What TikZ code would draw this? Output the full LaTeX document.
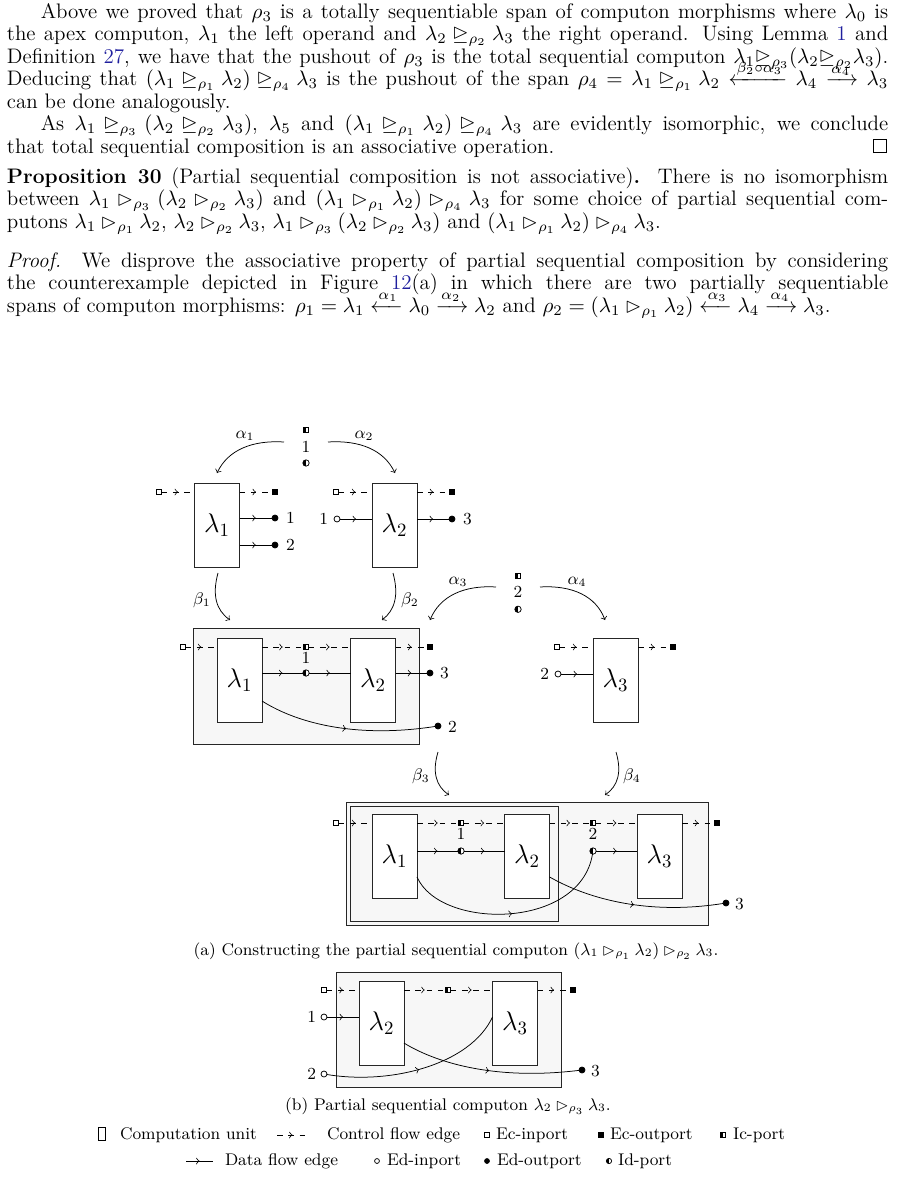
\RequirePackage{fix-cm}
\documentclass[tikz,border=0pt]{standalone}
\usepackage{amsmath,amssymb}
\usetikzlibrary{decorations.markings}
\definecolor{linkblue}{rgb}{0.12,0.12,0.62}
\newcommand{\lnk}[1]{\textcolor{linkblue}{#1}}
\newcommand{\myqedbox}{\hbox to.77778em{\hfil\vrule\vbox to.675em{\hrule width.6em\vfil\hrule}\vrule\hfil}}
\newlength{\twd}\setlength{\twd}{470pt}
\newcommand{\jl}[1]{\makebox[\twd][s]{#1}}
\newcommand{\ind}{\hspace*{18pt}}
\newcommand{\bodyfont}{\fontsize{11.2pt}{12pt}\selectfont}
\begin{document}
\begin{tikzpicture}[x=0.53333pt,y=-0.53333pt,
  every node/.style={inner sep=0pt,outer sep=0pt},
  txt/.style={anchor=base west,font=\bodyfont},
  cunit/.style={draw=black!85,fill=white,line width=0.5pt,minimum width=24pt,minimum height=44.8pt,font=\Large},
  comp/.style={draw=black!85,fill=black!3,line width=0.5pt},
  prt/.style={draw,line width=0.4pt},
  ecin/.style={prt,rectangle,fill=white,minimum size=2.8pt},
  ecout/.style={prt,rectangle,fill=black,minimum size=2.8pt},
  icp/.style={prt,rectangle,fill=white,minimum size=2.8pt,path picture={\fill[black] (path picture bounding box.south west) rectangle (path picture bounding box.north);}},
  edin/.style={prt,circle,fill=white,minimum size=3.2pt},
  edout/.style={prt,circle,fill=black,minimum size=3.2pt},
  idp/.style={prt,circle,fill=white,minimum size=3.4pt,path picture={\fill[black] (path picture bounding box.south west) rectangle (path picture bounding box.north);}},
  midarrow/.style={postaction={decorate},decoration={markings,mark=at position #1 with {\arrow{>}}}},
  midarrow/.default=0.5,
  cflow/.style={dashed,line width=0.4pt,midarrow=#1},
  cflow/.default=0.5,
  dflow/.style={line width=0.4pt,midarrow=#1},
  dflow/.default=0.5,
  morph/.style={->,line width=0.4pt},
  lab/.style={font=\small},
  leg/.style={font=\small,anchor=base west},
]
\fill[white] (0,0) rectangle (898,1177);
\useasboundingbox (0,0) rectangle (898,1177);

% ---------------- text ----------------
\node[txt] (t1) at (7,18) {\jl{\ind Above we proved that $\rho_3$ is a totally sequentiable span of computon morphisms where $\lambda_0$ is}};
\node[txt] (t2) at (7,40.5) {\jl{the apex computon, $\lambda_1$ the left operand and $\lambda_2 \unrhd_{\rho_2} \lambda_3$ the right operand. Using Lemma \lnk{1} and}};
\node[txt] (t3) at (7,63) {\jl{Definition \lnk{27}, we have that the pushout of $\rho_3$ is the total sequential computon $\lambda_1{\unrhd_{\rho_3}}(\lambda_2{\unrhd_{\rho_2}}\lambda_3)$.}};
\node[txt] (t4) at (7,85.5) {\jl{Deducing that $(\lambda_1 \unrhd_{\rho_1} \lambda_2) \unrhd_{\rho_4} \lambda_3$ is the pushout of the span $\rho_4 = \lambda_1 \unrhd_{\rho_1} \lambda_2 \xleftarrow{\beta_2\circ\alpha_3} \lambda_4 \xrightarrow{\alpha_4} \lambda_3$}};
\node[txt] (t5) at (7,108) {can be done analogously.};
\node[txt] (t6) at (7,130.5) {\jl{\ind As $\lambda_1 \unrhd_{\rho_3} (\lambda_2 \unrhd_{\rho_2} \lambda_3)$, $\lambda_5$ and $(\lambda_1 \unrhd_{\rho_1} \lambda_2) \unrhd_{\rho_4} \lambda_3$ are evidently isomorphic, we conclude}};
\node[txt] (t7) at (7,153) {\makebox[\twd][l]{that total sequential composition is an associative operation.\hfill\myqedbox}};
\node[txt] (t8) at (7,183) {\jl{\textbf{Proposition 30} (Partial sequential composition is not associative)\textbf{.} There is no isomorphism}};
\node[txt] (t9) at (7,205.5) {\jl{between $\lambda_1 \rhd_{\rho_3} (\lambda_2 \rhd_{\rho_2} \lambda_3)$ and $(\lambda_1 \rhd_{\rho_1} \lambda_2) \rhd_{\rho_4} \lambda_3$ for some choice of partial sequential com-}};
\node[txt] (t10) at (7,228) {putons $\lambda_1 \rhd_{\rho_1} \lambda_2$, $\lambda_2 \rhd_{\rho_2} \lambda_3$, $\lambda_1 \rhd_{\rho_3} (\lambda_2 \rhd_{\rho_2} \lambda_3)$ and $(\lambda_1 \rhd_{\rho_1} \lambda_2) \rhd_{\rho_4} \lambda_3$.};
\node[txt] (t11) at (7,267) {\jl{\textit{Proof.} We disprove the associative property of partial sequential composition by considering}};
\node[txt] (t12) at (7,289.5) {\jl{the counterexample depicted in Figure \lnk{12}(a) in which there are two partially sequentiable}};
\node[txt] (t13) at (7,312) {spans of computon morphisms: $\rho_1 = \lambda_1 \xleftarrow{\alpha_1} \lambda_0 \xrightarrow{\alpha_2} \lambda_2$ and $\rho_2 = (\lambda_1 \rhd_{\rho_1} \lambda_2) \xleftarrow{\alpha_3} \lambda_4 \xrightarrow{\alpha_4} \lambda_3$.};

% ---------------- top row ----------------
\node[icp] (s1ic) at (306,430) {};
\node[lab] (s1n) at (306,446.7) {1};
\node[idp] (s1id) at (306,463) {};
\coordinate (a1s) at (284,442); \coordinate (a1e) at (217,473);
\coordinate (a2s) at (328,442); \coordinate (a2e) at (395,473);
\draw[morph] (a1s) .. controls (252,440) and (228,450) .. (a1e);
\draw[morph] (a2s) .. controls (360,440) and (384,450) .. (a2e);
\node[lab] (a1l) at (245,436) {$\alpha_1$};
\node[lab] (a2l) at (364,436) {$\alpha_2$};

\node[cunit] (A1) at (217,525) {$\lambda_1$};
\node[cunit] (A2) at (394.5,525) {$\lambda_2$};
\node[ecin] (A1ci) at (159,492) {};
\node[ecout] (A1co) at (275,492) {};
\node[edout] (A1d1) at (275,518) {};
\node[edout] (A1d2) at (275,545) {};
\node[lab,anchor=west] (A1n1) at (286,518) {1};
\node[lab,anchor=west] (A1n2) at (286,545) {2};
\draw[cflow] (A1ci) -- (A1ci -| A1.west);
\draw[cflow] (A1.east |- A1co) -- (A1co);
\draw[dflow] (A1.east |- A1d1) -- (A1d1);
\draw[dflow] (A1.east |- A1d2) -- (A1d2);

\node[ecin] (A2ci) at (336,492) {};
\node[ecout] (A2co) at (452,492) {};
\node[edin] (A2di) at (337,519) {};
\node[edout] (A2do) at (452,519) {};
\node[lab,anchor=east] (A2n1) at (328,519) {1};
\node[lab,anchor=west] (A2n3) at (463,519) {3};
\draw[cflow] (A2ci) -- (A2ci -| A2.west);
\draw[cflow] (A2.east |- A2co) -- (A2co);
\draw[dflow] (A2di) -- (A2di -| A2.west);
\draw[dflow] (A2.east |- A2do) -- (A2do);

% ---------------- morphisms beta1, beta2, alpha3, alpha4 ----------------
\coordinate (b1s) at (218,573); \coordinate (b1e) at (230,620);
\coordinate (b2s) at (393,573); \coordinate (b2e) at (382,620);
\draw[morph] (b1s) .. controls (212,595) and (216,610) .. (b1e);
\draw[morph] (b2s) .. controls (399,595) and (395,610) .. (b2e);
\node[lab] (b1l) at (202,600) {$\beta_1$};
\node[lab] (b2l) at (410,600) {$\beta_2$};

\node[icp] (s2ic) at (518,576) {};
\node[lab] (s2n) at (518,592.3) {2};
\node[idp] (s2id) at (518,609.3) {};
\coordinate (a3s) at (496,587); \coordinate (a3e) at (430,620);
\coordinate (a4s) at (540,587); \coordinate (a4e) at (605,620);
\draw[morph] (a3s) .. controls (464,585) and (440,596) .. (a3e);
\draw[morph] (a4s) .. controls (572,585) and (596,596) .. (a4e);
\node[lab] (a3l) at (458,582) {$\alpha_3$};
\node[lab] (a4l) at (577,582) {$\alpha_4$};

% ---------------- middle left composite ----------------
\draw[comp] (193,628) rectangle (419,744);
\node[cunit] (B1) at (239.5,680) {$\lambda_1$};
\node[cunit] (B2) at (373,680) {$\lambda_2$};
\node[ecin] (Bci) at (183,647) {};
\node[icp] (Bic) at (306,647) {};
\node[ecout] (Bco) at (430,647) {};
\node[idp] (Bid) at (306,673) {};
\node[edout] (Bd3) at (430,673) {};
\node[edout] (Bd2) at (438,726) {};
\node[lab] (Bn1) at (306,658) {1};
\node[lab,anchor=west] (Bn3) at (440,673) {3};
\node[lab,anchor=west] (Bn2) at (448,727) {2};
\draw[cflow] (Bci) -- (Bci -| B1.west);
\draw[cflow] (B1.east |- Bic) -- (Bic);
\draw[cflow] (Bic) -- (Bic -| B2.west);
\draw[cflow] (B2.east |- Bco) -- (Bco);
\draw[dflow] (B1.east |- Bid) -- (Bid);
\draw[dflow] (Bid) -- (Bid -| B2.west);
\draw[dflow] (B2.east |- Bd3) -- (Bd3);
\draw[dflow] ([yshift=-11.2pt]B1.east) .. controls (300,725) and (360,738) .. (Bd2);

% ---------------- middle right lambda3 ----------------
\node[cunit] (C3) at (615.5,680) {$\lambda_3$};
\node[ecin] (Cci) at (557,647) {};
\node[ecout] (Cco) at (673,647) {};
\node[edin] (Cdi) at (558,674) {};
\node[lab,anchor=east] (Cn2) at (549,674) {2};
\draw[cflow] (Cci) -- (Cci -| C3.west);
\draw[cflow] (C3.east |- Cco) -- (Cco);
\draw[dflow] (Cdi) -- (Cdi -| C3.west);

% ---------------- beta3, beta4 ----------------
\coordinate (b3s) at (438,752); \coordinate (b3e) at (449,795);
\coordinate (b4s) at (616,752); \coordinate (b4e) at (605,795);
\draw[morph] (b3s) .. controls (432,772) and (436,786) .. (b3e);
\draw[morph] (b4s) .. controls (622,772) and (618,786) .. (b4e);
\node[lab] (b3l) at (421,776) {$\beta_3$};
\node[lab] (b4l) at (632,776) {$\beta_4$};

% ---------------- bottom composite ----------------
\draw[comp] (346,802) rectangle (708,925);
\draw[comp] (350,806) rectangle (558,921);
\node[cunit] (D1) at (394.5,856.5) {$\lambda_1$};
\node[cunit] (D2) at (527,856.5) {$\lambda_2$};
\node[cunit] (D3) at (659.5,856.5) {$\lambda_3$};
\node[ecin] (Dci) at (336,823) {};
\node[icp] (Dic1) at (461,823) {};
\node[icp] (Dic2) at (593,823) {};
\node[ecout] (Dco) at (717,823) {};
\node[idp] (Did1) at (461,851) {};
\node[idp] (Did2) at (593,851) {};
\node[edout] (Dd3) at (726,903) {};
\node[lab] (Dn1) at (461,834) {1};
\node[lab] (Dn2) at (593,834) {2};
\node[lab,anchor=west] (Dn3) at (735,904) {3};
\draw[cflow] (Dci) -- (Dci -| D1.west);
\draw[cflow] (D1.east |- Dic1) -- (Dic1);
\draw[cflow] (Dic1) -- (Dic1 -| D2.west);
\draw[cflow] (D2.east |- Dic2) -- (Dic2);
\draw[cflow] (Dic2) -- (Dic2 -| D3.west);
\draw[cflow] (D3.east |- Dco) -- (Dco);
\draw[dflow] (D1.east |- Did1) -- (Did1);
\draw[dflow] (Did1) -- (Did1 -| D2.west);
\draw[dflow] (Did2) -- (Did2 -| D3.west);
\draw[dflow] ([yshift=-10.9pt]D1.east) .. controls (440,930) and (580,930) .. (Did2);
\draw[dflow] ([yshift=-10.9pt]D2.east) .. controls (590,900) and (650,915) .. (Dd3);

\node[font=\small,anchor=base] (capa) at (456,955) {(a) Constructing the partial sequential computon $(\lambda_1 \rhd_{\rho_1} \lambda_2) \rhd_{\rho_2} \lambda_3$.};

% ---------------- (b) ----------------
\draw[comp] (336,972) rectangle (561,1087);
\node[cunit] (E2) at (381.5,1023) {$\lambda_2$};
\node[cunit] (E3) at (515,1023) {$\lambda_3$};
\node[ecin] (Eci) at (324,990) {};
\node[icp] (Eic) at (448,990) {};
\node[ecout] (Eco) at (573,990) {};
\node[edin] (Edi1) at (324,1017) {};
\node[edin] (Edi2) at (324,1074) {};
\node[edout] (Ed3) at (582,1070) {};
\node[lab,anchor=east] (En1) at (316,1017) {1};
\node[lab,anchor=east] (En2) at (316,1074) {2};
\node[lab,anchor=west] (En3) at (591,1071) {3};
\draw[cflow] (Eci) -- (Eci -| E2.west);
\draw[cflow] (E2.east |- Eic) -- (Eic);
\draw[cflow] (Eic) -- (Eic -| E3.west);
\draw[cflow] (E3.east |- Eco) -- (Eco);
\draw[dflow] (Edi1) -- (Edi1 -| E2.west);
\draw[dflow] (Edi2) .. controls (390,1085) and (470,1065) .. ([yshift=3.2pt]E3.west);
\draw[dflow] ([yshift=-10.7pt]E2.east) .. controls (440,1065) and (500,1080) .. (Ed3);

\node[font=\small,anchor=base] (capb) at (448,1110) {(b) Partial sequential computon $\lambda_2 \rhd_{\rho_3} \lambda_3$.};

% ---------------- legend ----------------
\node[draw,line width=0.4pt,minimum width=3.4pt,minimum height=7pt] (Lu) at (102,1134) {};
\node[leg] (Lut) at (120,1139) {Computation unit};
\coordinate (Lc1) at (277,1135); \coordinate (Lc2) at (308,1135);
\draw[cflow] (Lc1) -- (Lc2);
\node[leg] (Lct) at (327,1139) {Control flow edge};
\node[ecin,minimum size=2.5pt] (Lei) at (487,1135) {};
\node[leg] (Leit) at (496,1139) {Ec-inport};
\node[ecout,minimum size=2.5pt] (Leo) at (601,1135) {};
\node[leg] (Leot) at (610,1139) {Ec-outport};
\node[icp,minimum size=2.5pt] (Lic) at (723,1135) {};
\node[leg] (Lict) at (733,1139) {Ic-port};

\coordinate (Ld1) at (186,1161); \coordinate (Ld2) at (213,1161);
\draw[dflow] (Ld1) -- (Ld2);
\node[leg] (Ldt) at (225,1165.5) {Data flow edge};
\node[edin,minimum size=2.6pt] (Ldi) at (377,1161) {};
\node[leg] (Ldit) at (387,1165.5) {Ed-inport};
\node[edout,minimum size=2.6pt] (Ldo) at (487,1161) {};
\node[leg] (Ldot) at (497,1165.5) {Ed-outport};
\node[idp,minimum size=2.8pt] (Lid) at (609,1161) {};
\node[leg] (Lidt) at (618,1165.5) {Id-port};
\end{tikzpicture}
\end{document}
